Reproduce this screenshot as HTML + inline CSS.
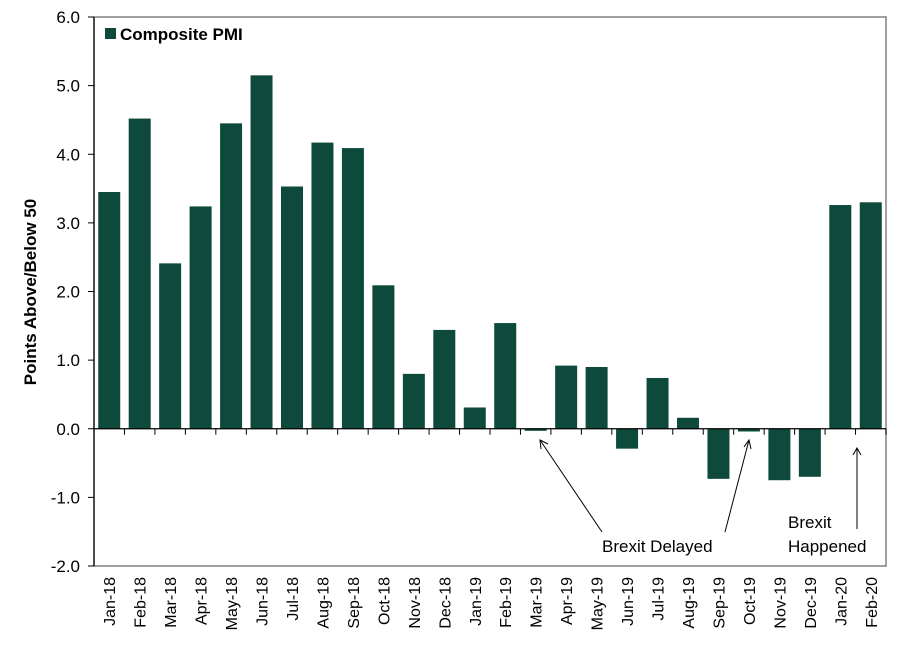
<!DOCTYPE html>
<html><head><meta charset="utf-8"><style>
html,body{margin:0;padding:0;background:#fff;}
svg{display:block;font-family:"Liberation Sans",Arial,sans-serif;}
</style></head><body>
<svg id="chart" width="900" height="653" viewBox="0 0 900 653" xmlns="http://www.w3.org/2000/svg">
<rect x="94" y="17" width="792" height="549" fill="none" stroke="#808080" stroke-width="1.5"/>
<g id="bars"></g>
<g id="axes"></g>
<g>
<rect x="105" y="28" width="11" height="11" fill="#0d4a3c"/>
<text x="120" y="40" font-size="17" font-weight="bold">Composite PMI</text>
</g>
<text transform="translate(36,292) rotate(-90)" text-anchor="middle" font-size="17" font-weight="bold">Points Above/Below 50</text>
<g stroke="#000" stroke-width="1" fill="none">
<line x1="602" y1="532" x2="540" y2="440"/>
<polyline points="541,449 540,440 548,444"/>
<line x1="725" y1="532" x2="749" y2="440"/>
<polyline points="744,447 749,440 751,449"/>
<line x1="857" y1="529" x2="857" y2="448"/>
<polyline points="853,455 857,448 861,455"/>
</g>
<text x="602" y="552" font-size="17">Brexit Delayed</text>
<text font-size="17"><tspan x="788" y="528">Brexit</tspan><tspan x="788" y="552">Happened</tspan></text>
</svg>
<script>
const categories=["Jan-18","Feb-18","Mar-18","Apr-18","May-18","Jun-18","Jul-18","Aug-18","Sep-18","Oct-18","Nov-18","Dec-18","Jan-19","Feb-19","Mar-19","Apr-19","May-19","Jun-19","Jul-19","Aug-19","Sep-19","Oct-19","Nov-19","Dec-19","Jan-20","Feb-20"];
const values=[3.45,4.52,2.41,3.24,4.45,5.15,3.53,4.17,4.09,2.09,0.8,1.44,0.31,1.54,-0.03,0.92,0.9,-0.29,0.74,0.16,-0.73,-0.04,-0.75,-0.7,3.26,3.3];
const yTicks=[6,5,4,3,2,1,0,-1,-2];
const yTickLabels=["6.0","5.0","4.0","3.0","2.0","1.0","0.0","-1.0","-2.0"];
const NS="http://www.w3.org/2000/svg";
const L=94,R=886,T=17,B=566,yMax=6,yMin=-2;
function y(v){return T+(yMax-v)/(yMax-yMin)*(B-T);}
const step=(R-L)/categories.length;
function x(i){return L+step*(i+0.5);}
const bars=document.getElementById('bars'),axes=document.getElementById('axes');
function mk(tag,attrs,parent){const e=document.createElementNS(NS,tag);for(const k in attrs)e.setAttribute(k,attrs[k]);parent.appendChild(e);return e;}
const bw=22;
values.forEach((v,i)=>{
 const r=mk('rect',{x:x(i)-bw/2,y:Math.min(y(v),y(0)),width:bw,height:Math.max(Math.abs(y(v)-y(0)),1),fill:'#0d4a3c'},bars);
 
 
});
const ax=mk('line',{x1:L,y1:T,x2:L,y2:B,stroke:'#000','stroke-width':1.2},axes);


const zx=mk('line',{x1:L,y1:y(0),x2:R,y2:y(0),stroke:'#000','stroke-width':1.2},axes);


yTicks.forEach((t,i)=>{
 const tk=mk('line',{x1:L-6,y1:y(t),x2:L,y2:y(t),stroke:'#000'},axes);
 
 
 const tx=mk('text',{x:80,y:y(t)+6,'text-anchor':'end','font-size':17},axes);
 tx.textContent=yTickLabels[i];
 
 
});
for(let i=0;i<=categories.length;i++){
 const xx=L+step*i;
 const tk=mk('line',{x1:xx,y1:y(0),x2:xx,y2:y(0)+6,stroke:'#000'},axes);
 
 
}
categories.forEach((c,i)=>{
 const tx=mk('text',{transform:'translate('+(x(i)+6)+',577) rotate(-90)','text-anchor':'end','font-size':16},axes);
 tx.textContent=c;
 
 
});
</script>
</body></html>
